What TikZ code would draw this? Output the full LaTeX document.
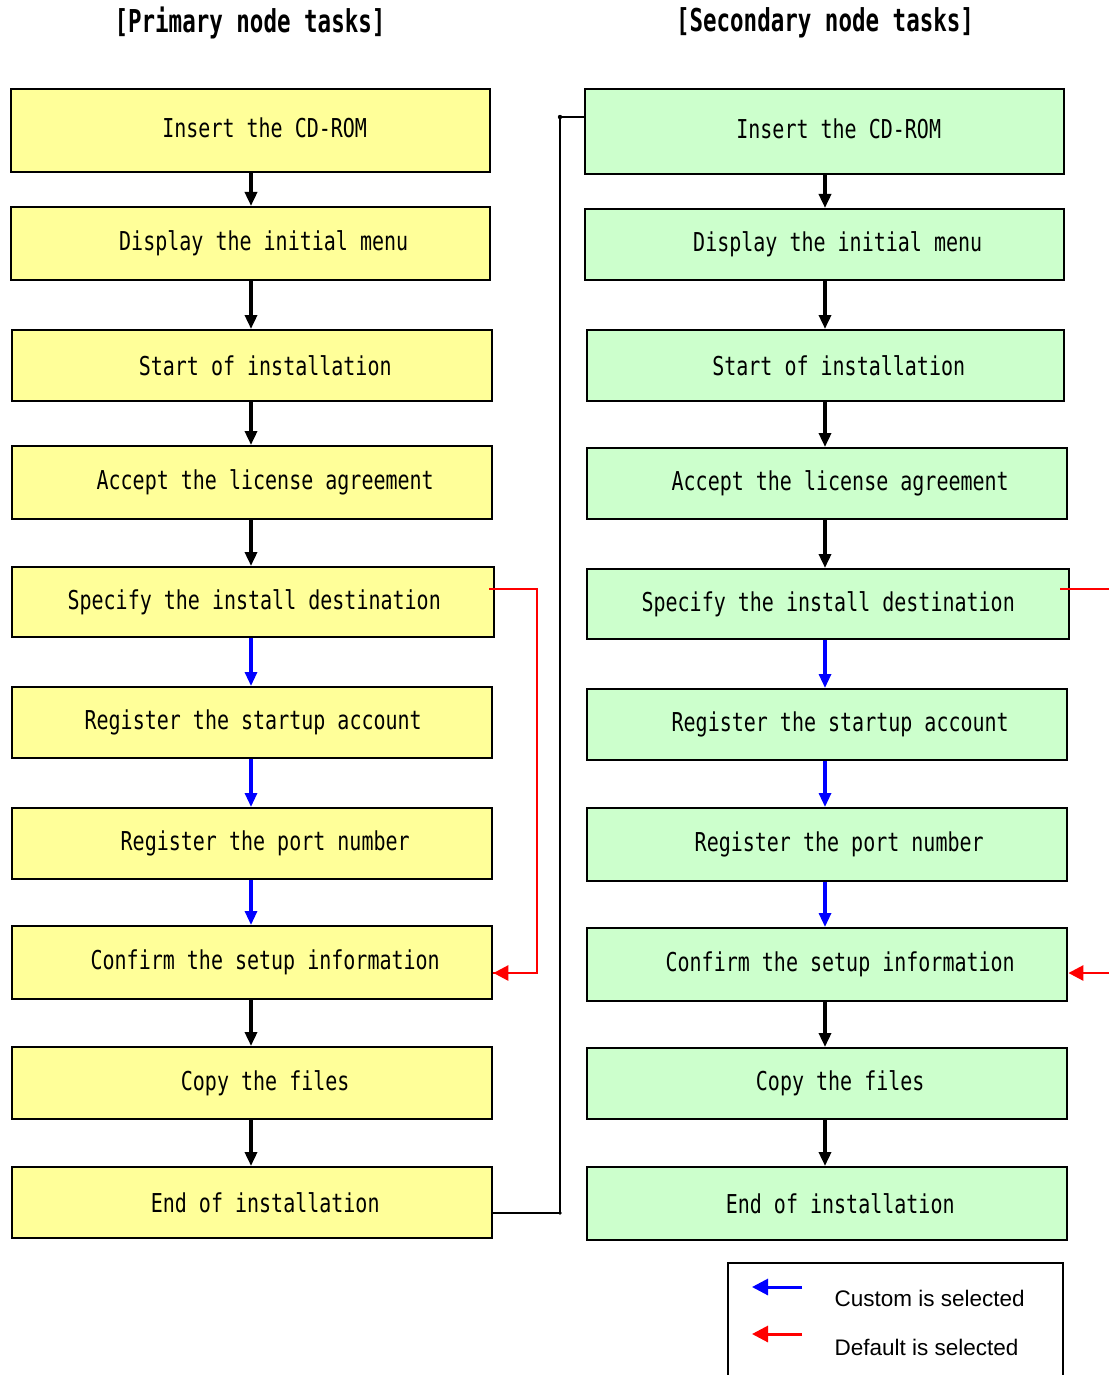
\documentclass[tikz,border=0pt]{standalone}
\usepackage{graphicx}
\usepackage{fontspec}
\setmonofont{DejaVu Sans Mono}
\setsansfont{Liberation Sans}
\usetikzlibrary{arrows.meta}
\definecolor{yel}{HTML}{FFFF99}
\definecolor{grn}{HTML}{CCFFCC}
\definecolor{bl}{HTML}{0000FF}
\definecolor{rd}{HTML}{FF0000}
\tikzset{
  boxbase/.style={draw=black, line width=2.4pt, inner sep=0pt, font=\ttfamily\fontsize{20}{24}\selectfont, anchor=north west},
  lbox/.style={boxbase, fill=yel},
  rbox/.style={boxbase, fill=grn},
  flow/.style={line width=3.4pt, -{Triangle[length=14pt,width=12pt]}},
  blueflow/.style={draw=bl, line width=3.1pt, -{Triangle[length=14pt,width=12pt]}},
  redline/.style={draw=rd, line width=2.1pt},
  redarr/.style={draw=rd, line width=2.8pt, -{Triangle[length=15pt,width=15pt]}},
  link/.style={line width=2.5pt},
  title/.style={font=\ttfamily\bfseries\fontsize{22.5}{26}\selectfont},
  legtext/.style={font=\sffamily\fontsize{22.5}{26}\selectfont, anchor=west},
}
\newcommand{\tallt}[2]{\scalebox{1}[#1]{#2}}
\newcommand{\bx}[8]{% style, name, x1,y1,x2,y2, text offset, text
  \node[#1, minimum width={#5-#3}, minimum height={#6-#4}] (#2) at (#3,#4) {\hspace*{#7pt}\tallt{1.3}{#8}};}
\begin{document}
\begin{tikzpicture}[x=1pt,y=-1pt]
\useasboundingbox (0,0) rectangle (1108,1375);
\node[title] (t1) at (250,23) {\tallt{1.4}{[Primary node tasks]}};
\node[title] (t2) at (825,23) {\tallt{1.4}{[Secondary node tasks]}};
% left column
\bx{lbox}{L1}{10}{88}{489}{171}{28}{\raisebox{5pt}{Insert the CD-ROM}}
\bx{lbox}{L2}{10}{206}{489}{279}{26}{Display the initial menu}
\bx{lbox}{L3}{11}{329}{491}{400}{26}{Start of installation}
\bx{lbox}{L4}{11}{445}{491}{518}{26}{Accept the license agreement}
\bx{lbox}{L5}{11}{566}{493}{636}{2}{Specify the install destination}
\bx{lbox}{L6}{11}{686}{491}{757}{2}{Register the startup account}
\bx{lbox}{L7}{11}{807}{491}{878}{26}{Register the port number}
\bx{lbox}{L8}{11}{925}{491}{998}{26}{Confirm the setup information}
\bx{lbox}{L9}{11}{1046}{491}{1118}{26}{Copy the files}
\bx{lbox}{L10}{11}{1166}{491}{1237}{26}{End of installation}
% right column
\bx{rbox}{R1}{584}{88}{1063}{173}{28}{\raisebox{5pt}{Insert the CD-ROM}}
\bx{rbox}{R2}{584}{208}{1063}{279}{26}{Display the initial menu}
\bx{rbox}{R3}{586}{329}{1063}{400}{26}{Start of installation}
\bx{rbox}{R4}{586}{447}{1066}{518}{26}{Accept the license agreement}
\bx{rbox}{R5}{586}{568}{1068}{638}{0}{Specify the install destination}
\bx{rbox}{R6}{586}{688}{1066}{759}{26}{Register the startup account}
\bx{rbox}{R7}{586}{807}{1066}{880}{24}{Register the port number}
\bx{rbox}{R8}{586}{927}{1066}{1000}{26}{Confirm the setup information}
\bx{rbox}{R9}{586}{1047}{1066}{1118}{26}{Copy the files}
\bx{rbox}{R10}{586}{1166}{1066}{1239}{26}{End of installation}
% arrows
\coordinate (lx) at (251,0);
\coordinate (rx) at (825,0);
\foreach \a/\b in {1/2,2/3,3/4,4/5,8/9,9/10}{
  \draw[flow] (L\a.south -| lx) -- (L\b.north -| lx);
  \draw[flow] (R\a.south -| rx) -- (R\b.north -| rx);
}
\foreach \a/\b in {5/6,6/7,7/8}{
  \draw[blueflow] (L\a.south -| lx) -- (L\b.north -| lx);
  \draw[blueflow] (R\a.south -| rx) -- (R\b.north -| rx);
}
% red default path, left
\coordinate (lr1) at (489,589);
\coordinate (lr2) at (537,589);
\coordinate (lr3) at (537,973);
\draw[redline] (lr1) -- (lr2) -- (lr3) -- (L8.east |- lr3);
\draw[redarr] (lr3) -- (L8.east |- lr3);
% red default path, right (leaves the frame)
\coordinate (rr1) at (1060,589);
\coordinate (rr2) at (1110,589);
\coordinate (rr3) at (1110,973);
\draw[redline] (rr1) -- (rr2);
\draw[redarr] (rr3) -- (R8.east |- rr3);
% link from primary end to secondary start
\coordinate (k1) at (560,1213);
\coordinate (k2) at (560,117);
\draw[link] (L10.east |- k1) -- (k1) -- (k2) -- (R1.west |- k2);
\fill (k1) circle (1.8pt);
\fill (k2) circle (2.2pt);
% legend
\draw[line width=2pt] (728,1380) -- (728,1263) -- (1063,1263) -- (1063,1380);
\coordinate (b1) at (802,1287);
\coordinate (b2) at (752,1287);
\coordinate (c1) at (802,1334);
\coordinate (c2) at (752,1334);
\draw[draw=bl, line width=3pt, -{Triangle[length=16pt,width=16pt]}] (b1) -- (b2);
\draw[draw=rd, line width=3pt, -{Triangle[length=16pt,width=16pt]}] (c1) -- (c2);
\node[legtext] (lg1) at (831,1298) {Custom is selected};
\node[legtext] (lg2) at (831,1347) {Default is selected};
\end{tikzpicture}
\end{document}
